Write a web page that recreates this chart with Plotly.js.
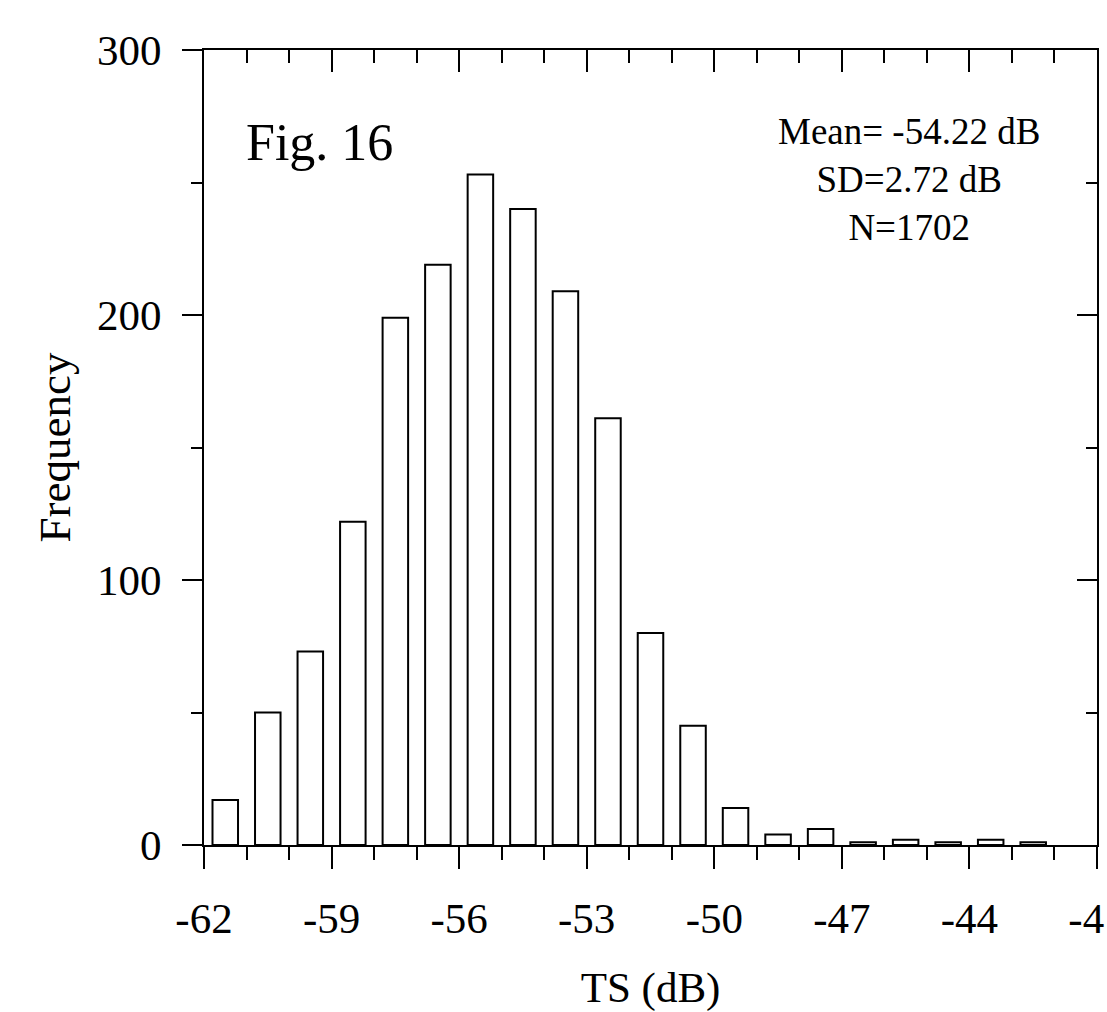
<!DOCTYPE html>
<html>
<head>
<meta charset="utf-8">
<script src="https://cdn.plot.ly/plotly-3.0.1.min.js"></script>
<style>html,body{margin:0;padding:0;background:#fff;overflow:hidden}</style>
</head>
<body>
<div id="chart" style="width:1107px;height:1012px"></div>
<script>
// Bin centres (TS, dB) and counts
const binCenters = [-61.5,-60.5,-59.5,-58.5,-57.5,-56.5,-55.5,-54.5,-53.5,-52.5,-51.5,-50.5,-49.5,-48.5,-47.5,-46.5,-45.5,-44.5,-43.5,-42.5];
const frequency  = [17,50,73,122,199,219,253,240,209,161,80,45,14,4,6,1,2,1,2,1];
const xTickVals  = [-62,-59,-56,-53,-50,-47,-44,-41];
const xTickText  = ["-62","-59","-56","-53","-50","-47","-44","-41"];
const yTickVals  = [0,100,200,300];
const yTickText  = ["0","100","200","300"];
const statsLines = ["Mean= -54.22 dB","SD=2.72 dB","N=1702"];
const figLabel   = "Fig. 16";

const FONT = "Liberation Serif, Times New Roman, serif";

const bars = {
  type: "bar",
  x: binCenters,
  y: frequency,
  width: 0.6,
  marker: {color: "#ffffff", line: {color: "#000000", width: 2}},
  hoverinfo: "x+y",
  showlegend: false
};

// transparent copy on the mirrored (top/right) axes so that the frame ticks are drawn
const frameHelper = {
  type: "bar",
  x: binCenters,
  y: frequency,
  width: 0.6,
  xaxis: "x2",
  yaxis: "y2",
  marker: {color: "rgba(0,0,0,0)", line: {width: 0}},
  hoverinfo: "skip",
  showlegend: false
};

const layout = {
  width: 1107,
  height: 1012,
  margin: {l: 204, r: 10, t: 50, b: 167, pad: 0},
  paper_bgcolor: "#ffffff",
  plot_bgcolor: "#ffffff",
  font: {family: FONT, color: "#000000", size: 43},
  showlegend: false,
  bargap: 0,
  barmode: "overlay",
  xaxis: {
    range: [-62, -41],
    tickmode: "array",
    tickvals: xTickVals,
    ticktext: xTickText,
    ticks: "outside",
    ticklen: 22,
    tickwidth: 2,
    tickcolor: "#000",
    minor: {tickmode: "linear", tick0: -62, dtick: 1, ticks: "outside", ticklen: 13, tickwidth: 2, tickcolor: "#000", showgrid: false},
    showline: true,
    linecolor: "#000",
    linewidth: 2,
    showgrid: false,
    zeroline: false,
    ticklabeloverflow: "allow",
    ticklabelstandoff: 12,
    tickfont: {family: FONT, size: 43, color: "#000"},
    title: {text: "TS (dB)", font: {family: FONT, size: 43, color: "#000"}, standoff: 49},
    automargin: false,
    fixedrange: true
  },
  xaxis2: {
    overlaying: "x",
    side: "top",
    anchor: "y2",
    range: [-62, -41],
    tickmode: "array",
    tickvals: xTickVals,
    ticks: "inside",
    ticklen: 22,
    tickwidth: 2,
    tickcolor: "#000",
    minor: {tickmode: "linear", tick0: -62, dtick: 1, ticks: "inside", ticklen: 13, tickwidth: 2, tickcolor: "#000", showgrid: false},
    showline: true,
    linecolor: "#000",
    linewidth: 2,
    showgrid: false,
    zeroline: false,
    showticklabels: false,
    automargin: false,
    fixedrange: true
  },
  yaxis: {
    range: [0, 300],
    tickmode: "array",
    tickvals: yTickVals,
    ticktext: yTickText,
    ticks: "outside",
    ticklen: 20,
    tickwidth: 2,
    tickcolor: "#000",
    minor: {tickmode: "linear", tick0: 0, dtick: 50, ticks: "outside", ticklen: 11, tickwidth: 2, tickcolor: "#000", showgrid: false},
    showline: true,
    linecolor: "#000",
    linewidth: 2,
    showgrid: false,
    zeroline: false,
    ticklabelstandoff: 12,
    tickfont: {family: FONT, size: 43, color: "#000"},
    title: {text: "Frequency", font: {family: FONT, size: 45, color: "#000"}, standoff: 12},
    automargin: false,
    fixedrange: true
  },
  yaxis2: {
    overlaying: "y",
    side: "right",
    anchor: "x2",
    range: [0, 300],
    tickmode: "array",
    tickvals: yTickVals,
    ticks: "inside",
    ticklen: 20,
    tickwidth: 2,
    tickcolor: "#000",
    minor: {tickmode: "linear", tick0: 0, dtick: 50, ticks: "inside", ticklen: 11, tickwidth: 2, tickcolor: "#000", showgrid: false},
    showline: true,
    linecolor: "#000",
    linewidth: 2,
    showgrid: false,
    zeroline: false,
    showticklabels: false,
    automargin: false,
    fixedrange: true
  },
  annotations: [
    {
      text: figLabel,
      xref: "paper", yref: "y",
      x: 0.045, y: 265,
      xanchor: "left", yanchor: "middle",
      showarrow: false,
      font: {family: FONT, size: 52, color: "#000"}
    },
    {
      text: statsLines.join("<br>"),
      xref: "paper", yref: "y",
      x: 0.7895, y: 251,
      xanchor: "center", yanchor: "middle",
      align: "center",
      showarrow: false,
      font: {family: FONT, size: 37, color: "#000"}
    }
  ]
};

Plotly.newPlot("chart", [frameHelper, bars], layout, {displayModeBar: false, staticPlot: true});
</script>
</body>
</html>
